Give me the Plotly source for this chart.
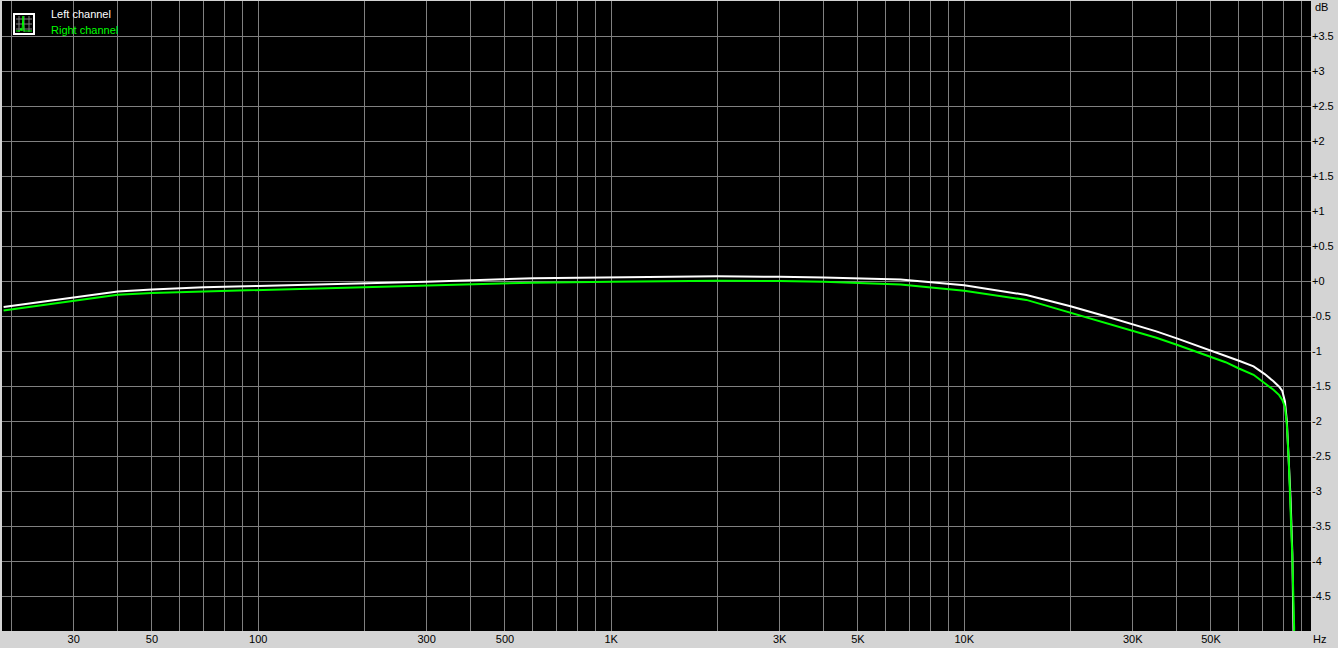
import numpy as np
import plotly.graph_objects as go

# frequency response data
freq_hz = [19, 40, 50, 70, 100, 200, 300, 600, 1000, 2000, 3000, 4000, 6600,
           10000, 15000, 20000, 25000, 30000, 35000, 40000, 45000, 50000, 55000, 60000,
           66000, 71000, 75000, 78000, 79600, 81000, 82000, 83000, 84000, 85000, 86000, 88000]
left_db = [-0.37, -0.15, -0.12, -0.09, -0.07, -0.035, -0.01, 0.04, 0.053, 0.067, 0.06, 0.05, 0.02,
           -0.06, -0.2, -0.36, -0.5, -0.62, -0.72, -0.82, -0.91, -0.99, -1.07, -1.14,
           -1.22, -1.33, -1.43, -1.51, -1.57, -1.72, -2.0, -2.5, -3.1, -3.9, -4.9, -9.0]
right_db = [-0.42, -0.195, -0.17, -0.15, -0.13, -0.086, -0.057, -0.024, -0.01, 0.005, 0.0, -0.01, -0.05,
            -0.14, -0.27, -0.45, -0.59, -0.71, -0.81, -0.91, -1.0, -1.08, -1.16, -1.25,
            -1.34, -1.46, -1.55, -1.63, -1.7, -1.8, -2.05, -2.55, -3.15, -3.95, -4.95, -9.0]

# axis ticks
x_grid = [m * 10 ** d for d in range(1, 5) for m in range(2 if d == 1 else 1, 10)]
x_labels = {30: '30', 50: '50', 100: '100', 300: '300', 500: '500', 1000: '1K', 3000: '3K',
            5000: '5K', 10000: '10K', 30000: '30K', 50000: '50K'}
y_grid = [v / 2 for v in range(-10, 9)]

def y_label(v):
    if v in (4.0, -5.0):
        return ''
    if v >= 0:
        return '+' + ('%g' % v)
    return '%g' % v

W, H = 1338, 648
L, R, T, B = 2, 27, 1, 17
PW, PH = W - L - R, H - T - B

def px(x):   # pixel -> paper x
    return (x - L) / PW

def py(y):   # pixel -> paper y
    return 1 - (y - T) / PH

fig = go.Figure()
fig.add_trace(go.Scatter(x=freq_hz, y=left_db, mode='lines', name='Left channel',
                         line=dict(color='#ffffff', width=2)))
fig.add_trace(go.Scatter(x=freq_hz, y=right_db, mode='lines', name='Right channel',
                         line=dict(color='#00ff00', width=2)))

font = dict(family='Liberation Sans, Arial, sans-serif', size=11, color='#000000')

fig.update_layout(
    width=W, height=H,
    margin=dict(l=L, r=R, t=T, b=B, autoexpand=False),
    paper_bgcolor='#d4d4d4',
    plot_bgcolor='#000000',
    showlegend=False,
    font=font,
)
fig.update_xaxes(
    type='log', range=[np.log10(18.8), np.log10(96000)],
    tickvals=x_grid, ticktext=[x_labels.get(v, '') for v in x_grid],
    showgrid=True, gridcolor='#808080', gridwidth=1,
    ticks='', zeroline=False, showline=False, tickangle=0, automargin=False,
)
fig.update_yaxes(
    side='right', range=[-5, 4],
    tickvals=y_grid, ticktext=[y_label(v) for v in y_grid],
    showgrid=True, gridcolor='#808080', gridwidth=1,
    ticks='', zeroline=False, showline=False, automargin=False,
)

# axis unit labels
fig.add_annotation(x=px(1313), y=py(7), xref='paper', yref='paper', text='dB',
                   showarrow=False, xanchor='left', yanchor='middle', font=font)
fig.add_annotation(x=px(1311), y=py(639), xref='paper', yref='paper', text='Hz',
                   showarrow=False, xanchor='left', yanchor='middle', font=font)

# legend texts
fig.add_annotation(x=px(49), y=py(14), xref='paper', yref='paper', text='Left channel',
                   showarrow=False, xanchor='left', yanchor='middle',
                   font=dict(family=font['family'], size=11, color='#ffffff'))
fig.add_annotation(x=px(49), y=py(30), xref='paper', yref='paper', text='Right channel',
                   showarrow=False, xanchor='left', yanchor='middle',
                   font=dict(family=font['family'], size=11, color='#00ff00'))

# legend icon
fig.add_shape(type='rect', xref='paper', yref='paper', x0=px(14), x1=px(34), y0=py(14), y1=py(34),
              line=dict(color='#ffffff', width=2), fillcolor='#000000', layer='above')
for gx in (19, 24, 29):
    fig.add_shape(type='line', xref='paper', yref='paper', x0=px(gx), x1=px(gx), y0=py(16), y1=py(32),
                  line=dict(color='#808080', width=1), layer='above')
for gy in (19, 24, 29):
    fig.add_shape(type='line', xref='paper', yref='paper', x0=px(16), x1=px(32), y0=py(gy), y1=py(gy),
                  line=dict(color='#808080', width=1), layer='above')
fig.add_shape(type='path', xref='paper', yref='paper',
              path='M %f,%f L %f,%f L %f,%f L %f,%f L %f,%f L %f,%f L %f,%f' % (
                  px(16), py(31), px(20), py(31), px(21), py(28), px(22), py(31),
                  px(23), py(16), px(24), py(31), px(32), py(31)),
              line=dict(color='#00ff00', width=1), layer='above')

fig.write_html('out.html', config={'displayModeBar': False},
               post_script="document.body.style.margin='0';document.body.style.overflow='hidden';")
